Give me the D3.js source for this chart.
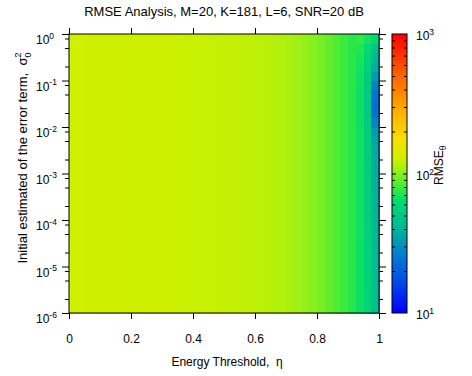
<!DOCTYPE html>
<html>
<head>
<meta charset="utf-8">
<script src="https://cdn.jsdelivr.net/npm/d3@7"></script>
<style>
  body { margin: 0; background: #fff; }
  svg { display: block; font-family: "Liberation Sans", Arial, Helvetica, sans-serif; }
  .keep-spaces { white-space: pre; }
</style>
</head>
<body>
<svg id="chart" width="472" height="376"></svg>
<script>
// Cell edges along the energy threshold axis (eta)
const etaEdges = [0,0.025,0.05,0.075,0.1,0.125,0.15,0.175,0.2,0.225,0.25,0.275,0.3,0.325,0.35,0.375,0.4,0.425,0.45,0.475,0.5,0.525,0.55,0.575,0.6,0.625,0.65,0.675,0.7,0.725,0.75,0.775,0.8,0.825,0.85,0.875,0.9,0.925,0.95,0.975,1];
// Cell edges along the initial error-term variance axis (log10 of sigma0^2)
const sigmaExpEdges = [-6,-5.8,-5.6,-5.4,-5.2,-5,-4.8,-4.6,-4.4,-4.2,-4,-3.8,-3.6,-3.4,-3.2,-3,-2.8,-2.6,-2.4,-2.2,-2,-1.8,-1.6,-1.4,-1.2,-1,-0.8,-0.6,-0.4,-0.2,0];

// RMSE per eta column (nearly constant over sigma0^2)
const rmseByEta = [130,130,129,129,129,128,128,128,127,127,127,126,126,126,125,125,125,124,124,123,
                   123,122,121,120,119,117,116,114,111,107,103,99,94,89,84,79,74,68,55,40];
// Columns near eta = 1 that vary with sigma0^2 (ordered from sigma0^2 = 1e-6 upward)
const rmseEta0925 = [66,66,66,66,66,66,66,66,67,67,67,67,67,67,67,67,67,67,67,67,66,66,66,66,67,67,68,70,72,76];
const rmseEta0950 = [57,57,57,56,56,56,56,56,56,56,55,55,55,55,55,55,54,54,54,54,53,52,51,51,52,54,56,58,62,68];
const rmseEta0975 = [46,45,45,44,44,43,43,42,42,41,41,40,40,39,39,38,38,37,36,33,28,24,23,24,28,33,38,42,48,63];
const variedColumns = { 37: rmseEta0925, 38: rmseEta0950, 39: rmseEta0975 };

// Axis ticks
const xTicks = [0, 0.2, 0.4, 0.6, 0.8, 1];
const yDecades = [-6,-5,-4,-3,-2,-1,0];
const cbDecades = [1, 2, 3];

// Colormap stops (position along the log colour range, colour)
const cmapT = [0, 0.12, 0.2, 0.3, 0.4, 0.45, 0.5, 0.55, 0.62, 0.72, 0.85, 1];
const cmapColors = ["#0000ff","#0050e6","#0078d2","#00b49b","#00dc6e","#3ceb3c","#8cf01e","#ccf000","#fae100","#ffaf00","#ff6400","#ff0000"];

const svg = d3.select("#chart");
const L = 69, R = 379, T = 34, B = 313;
const CBL = 392, CBR = 407;
const FS = 12, FSX = 8.5;

const x = d3.scaleLinear().domain([0, 1]).range([L, R]);
const y = d3.scaleLog().domain([1e-6, 1]).range([B, T]);
const cb = d3.scaleLog().domain([10, 1000]).range([B, T]);
const tOf = d3.scaleLog().domain([10, 1000]).range([0, 1]).clamp(true);
const cmap = d3.scaleLinear().domain(cmapT).range(cmapColors).interpolate(d3.interpolateRgb);
const color = v => cmap(tOf(v));

// Heatmap cells
const cells = [];
for (let i = 0; i < etaEdges.length - 1; i++) {
  for (let j = 0; j < sigmaExpEdges.length - 1; j++) {
    const v = variedColumns[i] ? variedColumns[i][j] : rmseByEta[i];
    cells.push({ x0: etaEdges[i], x1: etaEdges[i + 1], y0: Math.pow(10, sigmaExpEdges[j]), y1: Math.pow(10, sigmaExpEdges[j + 1]), v });
  }
}
svg.append("g").attr("shape-rendering", "crispEdges")
  .selectAll("rect").data(cells).join("rect")
  .attr("x", d => x(d.x0))
  .attr("y", d => y(d.y1))
  .attr("width", d => x(d.x1) - x(d.x0) + 0.6)
  .attr("height", d => y(d.y0) - y(d.y1) + 0.6)
  .attr("fill", d => color(d.v));

// Minor log ticks shown on the sigma axis
const yMinor = [];
yDecades.slice(0, -1).forEach(k => [2, 5, 8].forEach(m => yMinor.push(m * Math.pow(10, k))));

function styleAxis(g) {
  g.select(".domain").remove();
  g.selectAll(".tick line").attr("stroke", "#000").attr("stroke-width", 1);
}
const yMajorVals = yDecades.map(k => Math.pow(10, k));

svg.append("g").attr("transform", `translate(${L},0)`)
  .call(d3.axisLeft(y).tickValues(yMajorVals).tickSize(7).tickFormat("")).call(styleAxis);
svg.append("g").attr("transform", `translate(${L},0)`)
  .call(d3.axisLeft(y).tickValues(yMinor).tickSize(4).tickFormat("")).call(styleAxis);
svg.append("g").attr("transform", `translate(${R},0)`)
  .call(d3.axisRight(y).tickValues(yMajorVals).tickSize(7).tickFormat("")).call(styleAxis);
svg.append("g").attr("transform", `translate(${R},0)`)
  .call(d3.axisRight(y).tickValues(yMinor).tickSize(4).tickFormat("")).call(styleAxis);

// x axis: bottom with labels, top mirrored
const xb = svg.append("g").attr("transform", `translate(0,${B})`)
  .call(d3.axisBottom(x).tickValues(xTicks).tickSize(6).tickPadding(15.5).tickFormat(d3.format("~g")))
  .call(styleAxis);
xb.selectAll("text").attr("font-size", FS).attr("fill", "#000").attr("font-family", null);
svg.append("g").attr("transform", `translate(0,${T})`)
  .call(d3.axisTop(x).tickValues(xTicks).tickSize(6).tickFormat("")).call(styleAxis);

// Plot frame
svg.append("rect").attr("x", L).attr("y", T).attr("width", R - L).attr("height", B - T)
  .attr("fill", "none").attr("stroke", "#000").attr("stroke-width", 1);

// y tick labels 10^k
const ylab = svg.append("g").attr("font-size", FS).attr("fill", "#000");
yDecades.forEach(k => {
  const yy = y(Math.pow(10, k));
  const t = ylab.append("text").attr("x", 36).attr("y", yy + 10);
  t.append("tspan").text("10");
  t.append("tspan").attr("font-size", FSX).attr("dy", -5.5).text(k === 0 ? "0" : "-" + Math.abs(k));
});

// Colour bar
const defs = svg.append("defs");
const grad = defs.append("linearGradient").attr("id", "cbGrad")
  .attr("x1", 0).attr("y1", 1).attr("x2", 0).attr("y2", 0);
cmapT.forEach((t, i) => grad.append("stop").attr("offset", t).attr("stop-color", cmapColors[i]));
svg.append("rect").attr("x", CBL).attr("y", T).attr("width", CBR - CBL).attr("height", B - T)
  .attr("fill", "url(#cbGrad)");

const cbMinor = [];
[1, 2].forEach(k => d3.range(2, 10).forEach(m => cbMinor.push(m * Math.pow(10, k))));
svg.append("g").attr("transform", `translate(${CBL},0)`)
  .call(d3.axisRight(cb).tickValues(cbMinor).tickSize(3).tickFormat("")).call(styleAxis);
svg.append("g").attr("transform", `translate(${CBR},0)`)
  .call(d3.axisLeft(cb).tickValues(cbMinor).tickSize(3).tickFormat("")).call(styleAxis);
svg.append("g").attr("transform", `translate(${CBL},0)`)
  .call(d3.axisRight(cb).tickValues([100]).tickSize(4).tickFormat("")).call(styleAxis);
svg.append("g").attr("transform", `translate(${CBR},0)`)
  .call(d3.axisLeft(cb).tickValues([100]).tickSize(4).tickFormat("")).call(styleAxis);
svg.append("rect").attr("x", CBL).attr("y", T).attr("width", CBR - CBL).attr("height", B - T)
  .attr("fill", "none").attr("stroke", "#000").attr("stroke-width", 1);

const cbl = svg.append("g").attr("font-size", FS).attr("fill", "#000");
cbDecades.forEach(k => {
  const yy = cb(Math.pow(10, k));
  const t = cbl.append("text").attr("x", 416).attr("y", yy + 6);
  t.append("tspan").text("10");
  t.append("tspan").attr("font-size", FSX).attr("dy", -5).text(String(k));
});

// Colour bar label
const cbTitle = svg.append("text").attr("font-size", FS).attr("fill", "#000")
  .attr("transform", "translate(443,185) rotate(-90)");
cbTitle.append("tspan").text("RMSE");
cbTitle.append("tspan").attr("font-size", FSX).attr("dy", 3).text("θ");

// Titles
svg.append("text").attr("x", 224).attr("y", 16).attr("text-anchor", "middle")
  .attr("font-size", 13).attr("fill", "#000")
  .text("RMSE Analysis, M=20, K=181, L=6, SNR=20 dB");
svg.append("text").attr("class", "keep-spaces").attr("x", 227).attr("y", 366).attr("text-anchor", "middle")
  .attr("font-size", FS).attr("fill", "#000")
  .text("Energy Threshold,  η");

const yTitle = svg.append("text").attr("class", "keep-spaces").attr("font-size", 13).attr("fill", "#000")
  .attr("text-anchor", "middle")
  .attr("transform", "translate(27,158) rotate(-90)");
yTitle.append("tspan").text("Initial estimated of the error term,  σ");
yTitle.append("tspan").attr("font-size", 9).attr("dy", -6).text("2");
yTitle.append("tspan").attr("font-size", 9).attr("dx", -5).attr("dy", 9.5).text("0");
</script>
</body>
</html>
